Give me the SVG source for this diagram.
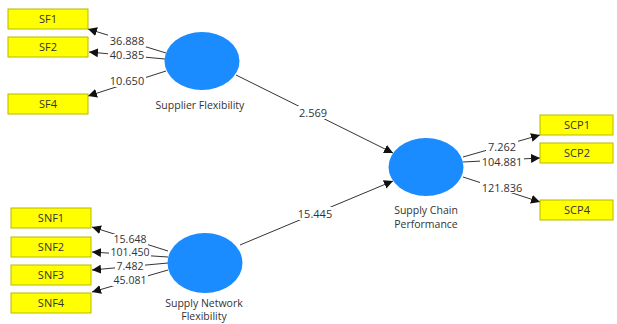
<svg xmlns="http://www.w3.org/2000/svg" width="617" height="324" viewBox="0 0 617 324">
<defs>
<marker id="ah" viewBox="0 0 10 10" refX="10" refY="5" markerWidth="9" markerHeight="9" markerUnits="userSpaceOnUse" orient="auto">
<path d="M0,0 L10,5 L0,10 z" fill="#111"/>
</marker>
<style>
.box{fill:#ffff00;stroke:#b8b800;stroke-width:1}
.lv{fill:#1a8cff}
.bt{font-family:"Open Sans","DejaVu Sans",sans-serif;font-size:11px;fill:#333;text-anchor:middle}
.lt{font-family:"Open Sans","DejaVu Sans",sans-serif;font-size:11px;fill:#333;text-anchor:middle}
.st{font-family:"Open Sans","DejaVu Sans",sans-serif;font-size:10.5px;fill:#333;text-anchor:middle}
.nt{font-family:"Open Sans","DejaVu Sans",sans-serif;font-size:10.5px;fill:#333;text-anchor:middle}
.ln{stroke:#333;stroke-width:1;fill:none;marker-end:url(#ah)}
.bg{fill:#fff}
</style>
</defs>
<rect width="617" height="324" fill="#fff"/>
<g id="connectors">
<line class="ln" x1="166" y1="53" x2="88" y2="29"/>
<line class="ln" x1="165" y1="59" x2="89" y2="52"/>
<line class="ln" x1="166" y1="71" x2="88" y2="96"/>
<line class="ln" x1="168" y1="251" x2="92" y2="227"/>
<line class="ln" x1="168" y1="257" x2="92" y2="252"/>
<line class="ln" x1="168" y1="263" x2="92" y2="270"/>
<line class="ln" x1="168" y1="270" x2="92" y2="292"/>
<line class="ln" x1="463" y1="157" x2="540" y2="135"/>
<line class="ln" x1="463" y1="162" x2="540" y2="158"/>
<line class="ln" x1="463" y1="177" x2="540" y2="202"/>
<line class="ln" x1="236" y1="75" x2="393" y2="153"/>
<line class="ln" x1="240" y1="245" x2="393" y2="181"/>
<rect class="bg" x="108" y="34" width="38" height="13"/><text class="lt" x="127" y="45">36.888</text>
<rect class="bg" x="108" y="49" width="38" height="12"/><text class="lt" x="127" y="59">40.385</text>
<rect class="bg" x="108" y="74" width="38" height="13"/><text class="lt" x="127" y="85">10.650</text>
<rect class="bg" x="112" y="234" width="36" height="11"/><text class="st" x="130" y="243">15.648</text>
<rect class="bg" x="109" y="247" width="42" height="11"/><text class="st" x="130" y="256">101.450</text>
<rect class="bg" x="115" y="261" width="30" height="11"/><text class="st" x="130" y="270">7.482</text>
<rect class="bg" x="112" y="275" width="36" height="11"/><text class="st" x="130" y="284">45.081</text>
<rect class="bg" x="486" y="140" width="32" height="12"/><text class="lt" x="502" y="151">7.262</text>
<rect class="bg" x="480" y="155" width="44" height="12"/><text class="lt" x="502" y="166">104.881</text>
<rect class="bg" x="480" y="181" width="44" height="12"/><text class="lt" x="502" y="192">121.836</text>
<rect class="bg" x="296" y="106" width="34" height="13"/><text class="lt" x="313" y="117">2.569</text>
<rect class="bg" x="295" y="207" width="40" height="13"/><text class="lt" x="315" y="218">15.445</text>
</g>
<g id="SF1"><rect class="box" x="8" y="9" width="80" height="20"/><text class="bt" x="48" y="23">SF1</text></g>
<g id="SF2"><rect class="box" x="8" y="37" width="80" height="20"/><text class="bt" x="48" y="51">SF2</text></g>
<g id="SF4"><rect class="box" x="8" y="94" width="80" height="20"/><text class="bt" x="48" y="108">SF4</text></g>
<g id="SNF1"><rect class="box" x="11" y="208" width="80" height="20"/><text class="bt" x="51" y="222">SNF1</text></g>
<g id="SNF2"><rect class="box" x="11" y="237" width="80" height="20"/><text class="bt" x="51" y="251">SNF2</text></g>
<g id="SNF3"><rect class="box" x="11" y="265" width="80" height="20"/><text class="bt" x="51" y="279">SNF3</text></g>
<g id="SNF4"><rect class="box" x="11" y="293" width="80" height="20"/><text class="bt" x="51" y="307">SNF4</text></g>
<g id="SCP1"><rect class="box" x="540" y="115" width="73" height="20"/><text class="bt" x="577" y="129">SCP1</text></g>
<g id="SCP2"><rect class="box" x="540" y="143" width="73" height="20"/><text class="bt" x="577" y="157">SCP2</text></g>
<g id="SCP4"><rect class="box" x="540" y="200" width="73" height="20"/><text class="bt" x="577" y="214">SCP4</text></g>
<g id="SupplierFlexibility"><ellipse class="lv" cx="202" cy="61" rx="37.5" ry="29"/><text class="nt" x="200" y="109">Supplier Flexibility</text></g>
<g id="SupplyNetworkFlexibility"><ellipse class="lv" cx="205" cy="263" rx="37.5" ry="30"/><text class="nt" x="204" y="307">Supply Network</text><text class="nt" x="204" y="320">Flexibility</text></g>
<g id="SupplyChainPerformance"><ellipse class="lv" cx="426" cy="167" rx="37.5" ry="29"/><text class="nt" x="426" y="214">Supply Chain</text><text class="nt" x="426" y="228">Performance</text></g>
</svg>
